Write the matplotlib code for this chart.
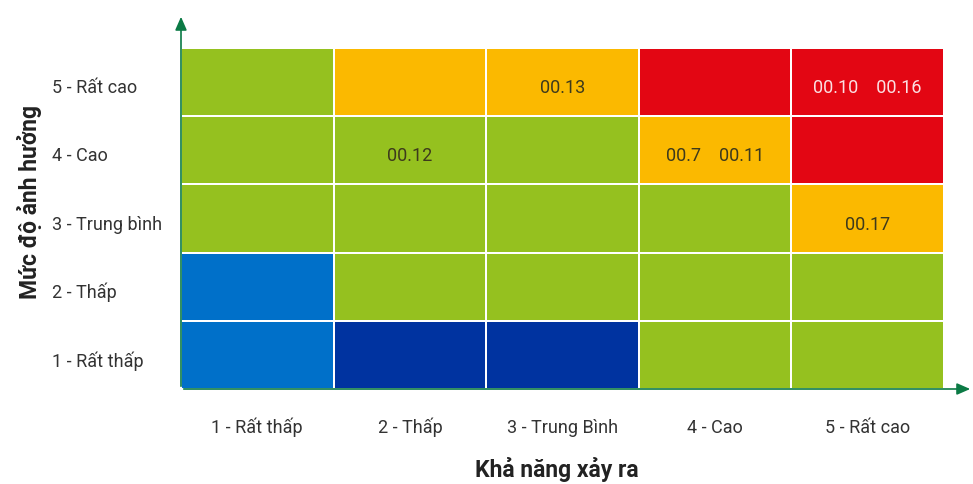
import numpy as np
import matplotlib
matplotlib.use("Agg")
from matplotlib import pyplot as plt
from matplotlib.colors import ListedColormap

# Ma trận rủi ro: hàng = mức độ ảnh hưởng (1..5), cột = khả năng xảy ra (1..5)
x_labels = ["1 - Rất thấp", "2 - Thấp", "3 - Trung Bình", "4 - Cao", "5 - Rất cao"]
y_labels = ["1 - Rất thấp", "2 - Thấp", "3 - Trung bình", "4 - Cao", "5 - Rất cao"]

# 0 = xanh dương nhạt, 1 = xanh dương đậm, 2 = xanh lá, 3 = cam, 4 = đỏ
levels = [
    [0, 1, 1, 2, 2],  # 1 - Rất thấp
    [0, 2, 2, 2, 2],  # 2 - Thấp
    [2, 2, 2, 2, 3],  # 3 - Trung bình
    [2, 2, 2, 3, 4],  # 4 - Cao
    [2, 3, 3, 4, 4],  # 5 - Rất cao
]
level_colors = ["#0070C9", "#0033A0", "#95C11F", "#FBB900", "#E30613"]

# (cột, hàng) -> nhãn rủi ro
risk_cells = [(3, 5), (5, 5), (2, 4), (4, 4), (5, 3)]
risk_text = ["00.13", "00.10    00.16", "00.12", "00.7    00.11", "00.17"]

plt.rcParams['font.family'] = ['Roboto', 'DejaVu Sans']

fig = plt.figure(figsize=(9.73, 4.84), dpi=100)
W, H = 973, 484
ax = fig.add_axes([181 / W, (H - 389) / H, (973 - 181) / W, (389 - 14) / H])

cell_w = (944 - 181) / 5
cell_h = (389 - 48) / 5
ax.set_xlim(0, (973 - 181) / cell_w)
ax.set_ylim(0, (389 - 14) / cell_h)

grid = np.array(levels)
ax.pcolormesh(np.arange(6), np.arange(6), grid, cmap=ListedColormap(level_colors),
              vmin=-0.5, vmax=4.5, edgecolors="white", linewidth=1.3)

# chữ trong ô hơi thấp hơn tâm ô như hình gốc
dy = 4 / cell_h
for (c, r), t in zip(risk_cells, risk_text):
    col = "#FBE0E3" if levels[r - 1][c - 1] == 4 else "#3d3a1c"
    ax.text(c - 0.5, r - 0.5 - dy, t, ha="center", va="center_baseline", fontsize=13, color=col)

# trục với mũi tên
arrow_kw = dict(arrowstyle="-|>,head_length=0.8,head_width=0.35", color="#0b7a45", lw=1.2)
ax.annotate("", xy=(0, ax.get_ylim()[1]), xytext=(0, 0), arrowprops=arrow_kw, annotation_clip=False)
ax.annotate("", xy=(ax.get_xlim()[1], 0), xytext=(0, 0), arrowprops=arrow_kw, annotation_clip=False)

for s in ax.spines.values():
    s.set_visible(False)

ax.set_xticks(np.arange(5) + 0.5)
ax.set_xticklabels(x_labels, fontsize=13, color="#333333", va="baseline")
ax.set_yticks(np.arange(5) + 0.5 - dy)
ax.set_yticklabels(y_labels, fontsize=13, color="#333333", ha="left", va="center_baseline")
ax.tick_params(axis="x", length=0, pad=32)
ax.tick_params(axis="y", length=0, pad=93)

ax.set_xlabel("Khả năng xảy ra", fontsize=16.5, fontweight="bold", color="#222222", va="center")
ax.xaxis.set_label_coords((557 - 181) / (973 - 181), -(470 - 389) / (389 - 14))
ax.set_ylabel("Mức độ ảnh hưởng", fontsize=16.5, fontweight="bold", color="#222222", va="center")
ax.yaxis.set_label_coords(-(181 - 30) / (973 - 181), (389 - 202) / (389 - 14))

fig.savefig("out.png", dpi=100)
